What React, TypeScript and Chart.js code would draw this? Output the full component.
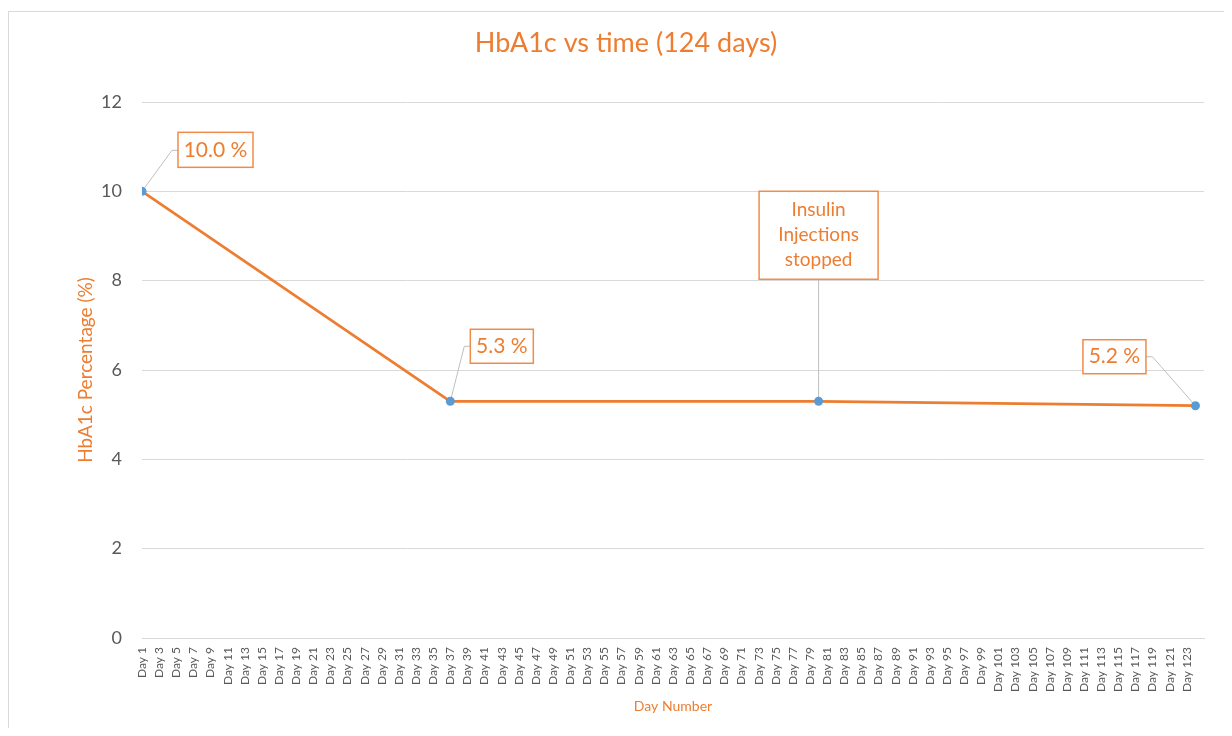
import React, { useEffect, useRef } from "react";
import { Chart, registerables } from "chart.js";

Chart.register(...registerables);

// ---- Data ----
const DAYS: number[] = [1, 37, 80, 124];
const HBA1C: number[] = [10.0, 5.3, 5.3, 5.2];
const X_MIN = 1;
const X_MAX = 125;
const X_TICK_DAYS: number[] = [];
for (let d = 1; d <= 123; d += 2) X_TICK_DAYS.push(d);
const Y_TICKS: number[] = [0, 2, 4, 6, 8, 10, 12];
const TITLE = "HbA1c vs time (124 days)";
const X_TITLE = "Day Number";
const Y_TITLE = "HbA1c Percentage (%)";
const NOTE_TEXT: string[] = ["Insulin", "Injections", "stopped"];

// ---- Styles ----
const FONT = 'Lato, "Open Sans", sans-serif';
const ORANGE = "#ED7D31";
const BOX_BORDER = "#F08C4A";
const BLUE = "#5B9BD5";
const GRID = "#D9D9D9";
const TICK = "#595959";

type Ann = {
  index: number;
  lines: string[];
  box: { dx: number; dy: number; w: number; h: number };
  elbow: { dx: number; dy: number } | null;
  fontSize: number;
  lineHeight: number;
};

const fmt = (v: number) => `${v.toFixed(1)} %`;

const ANNOTATIONS: Ann[] = [
  { index: 0, lines: [fmt(HBA1C[0])], box: { dx: 36, dy: -59, w: 75, h: 35 }, elbow: { dx: 30, dy: -41 }, fontSize: 21, lineHeight: 24 },
  { index: 1, lines: [fmt(HBA1C[1])], box: { dx: 20, dy: -72, w: 63, h: 34 }, elbow: { dx: 14, dy: -55 }, fontSize: 21, lineHeight: 24 },
  { index: 2, lines: NOTE_TEXT, box: { dx: -59.5, dy: -210, w: 119, h: 88 }, elbow: null, fontSize: 19, lineHeight: 25 },
  { index: 3, lines: [fmt(HBA1C[3])], box: { dx: -112.5, dy: -66, w: 63, h: 34 }, elbow: { dx: -43, dy: -49 }, fontSize: 21, lineHeight: 24 },
];

const annotationPlugin = {
  id: "calloutLabels",
  beforeDatasetsDraw(chart: any) {
    const ctx = chart.ctx;
    const meta = chart.getDatasetMeta(0);
    ctx.save();
    ctx.strokeStyle = "#BFBFBF";
    ctx.lineWidth = 1;
    for (const a of ANNOTATIONS) {
      const pt = meta.data[a.index];
      if (!pt) continue;
      const px = pt.x, py = pt.y;
      const bl = px + a.box.dx, bt = py + a.box.dy;
      ctx.beginPath();
      if (a.elbow) {
        const ex = px + a.elbow.dx, ey = py + a.elbow.dy;
        const edgeX = a.box.dx > 0 ? bl : bl + a.box.w;
        ctx.moveTo(px, py);
        ctx.lineTo(ex, ey);
        ctx.lineTo(edgeX, ey);
      } else {
        ctx.moveTo(px, py);
        ctx.lineTo(px, bt + a.box.h);
      }
      ctx.stroke();
    }
    ctx.restore();
  },
  afterDatasetsDraw(chart: any) {
    const ctx = chart.ctx;
    const meta = chart.getDatasetMeta(0);
    ctx.save();
    for (const a of ANNOTATIONS) {
      const pt = meta.data[a.index];
      if (!pt) continue;
      const bl = pt.x + a.box.dx, bt = pt.y + a.box.dy;
      ctx.fillStyle = "#FFFFFF";
      ctx.fillRect(bl, bt, a.box.w, a.box.h);
      ctx.strokeStyle = BOX_BORDER;
      ctx.lineWidth = 1.5;
      ctx.strokeRect(bl, bt, a.box.w, a.box.h);
      ctx.fillStyle = ORANGE;
      ctx.font = `${a.fontSize}px ${FONT}`;
      ctx.textAlign = "center";
      ctx.textBaseline = "middle";
      const cx = bl + a.box.w / 2;
      const cy = bt + a.box.h / 2;
      const n = a.lines.length;
      a.lines.forEach((t, i) => {
        ctx.fillText(t, cx, cy + (i - (n - 1) / 2) * a.lineHeight);
      });
    }
    ctx.restore();
  },
};

export default function App() {
  const canvasRef = useRef<HTMLCanvasElement | null>(null);

  useEffect(() => {
    if (!canvasRef.current) return;
    const chart = new Chart(canvasRef.current, {
      type: "line",
      data: {
        datasets: [
          {
            label: "HbA1c",
            data: DAYS.map((d, i) => ({ x: d, y: HBA1C[i] })),
            borderColor: ORANGE,
            borderWidth: 2.75,
            backgroundColor: BLUE,
            pointBackgroundColor: BLUE,
            pointBorderColor: BLUE,
            pointBorderWidth: 0,
            pointRadius: 4.5,
            tension: 0,
            fill: false,
          },
        ],
      },
      options: {
        animation: false,
        responsive: false,
        maintainAspectRatio: false,
        layout: { padding: { left: 39, right: 28, top: 6, bottom: 11.6 } },
        plugins: {
          legend: { display: false },
          tooltip: { enabled: false },
          title: {
            display: true,
            text: TITLE,
            color: ORANGE,
            font: { family: FONT, size: 27, weight: "normal" },
            padding: { top: 8.8, bottom: 42.8 },
          },
        },
        scales: {
          x: {
            type: "linear",
            min: X_MIN,
            max: X_MAX,
            grid: { display: false, drawTicks: false },
            border: { display: true, color: GRID, width: 1 },
            afterBuildTicks: (scale: any) => {
              scale.ticks = X_TICK_DAYS.map((v) => ({ value: v }));
            },
            afterFit: (scale: any) => {
              scale.height = 78.4;
            },
            ticks: {
              autoSkip: false,
              maxRotation: 90,
              minRotation: 90,
              padding: 9,
              color: TICK,
              font: { family: FONT, size: 12 },
              callback: (v: any) => `Day ${v}`,
            },
            title: {
              display: true,
              text: X_TITLE,
              color: ORANGE,
              font: { family: FONT, size: 14 },
              padding: { top: 2, bottom: 2 },
            },
          },
          y: {
            min: 0,
            max: 12,
            afterBuildTicks: (scale: any) => {
              scale.ticks = Y_TICKS.map((v) => ({ value: v }));
            },
            afterFit: (scale: any) => {
              scale.width = 94;
            },
            grid: { color: GRID, lineWidth: 1, drawTicks: false },
            border: { display: false },
            ticks: {
              padding: 20,
              color: TICK,
              font: { family: FONT, size: 18 },
            },
            title: {
              display: true,
              text: Y_TITLE,
              color: ORANGE,
              font: { family: FONT, size: 19 },
              padding: { top: 26.6, bottom: 0 },
            },
          },
        },
      },
      plugins: [annotationPlugin],
    } as any);
    return () => chart.destroy();
  }, []);

  return (
    <div style={{ paddingTop: 3 }}>
      <div
        style={{
          borderTop: "1px solid #D9D9D9",
          borderLeft: "1px solid #D9D9D9",
          width: 1223,
          height: 716,
          background: "#FFFFFF",
        }}
      >
        <canvas ref={canvasRef} width={1223} height={716} style={{ display: "block" }} />
      </div>
    </div>
  );
}
